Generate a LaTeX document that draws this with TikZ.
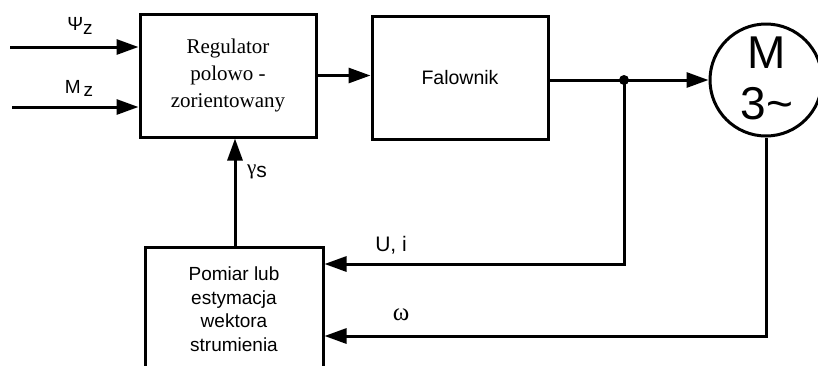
\documentclass[tikz,border=0pt]{standalone}
\usepackage{fontspec}
\setmainfont{Liberation Sans}
\newfontfamily\seriffont{Liberation Serif}
\usetikzlibrary{arrows.meta}
\begin{document}
\begin{tikzpicture}[x=1pt,y=-1pt,
  line width=3pt,
  blk/.style={draw,line width=3pt,minimum width=176pt,minimum height=123pt,inner sep=0pt,align=center},
  arr/.style={-{Triangle[length=22pt,width=15pt]}},
  lbl/.style={inner sep=0pt,anchor=center}]
\useasboundingbox (0,0) rectangle (818,365);
\clip (0,0) rectangle (818,365);
% blocks
\node[blk,font=\seriffont\fontsize{21}{27}\selectfont] (reg) at (228,75.5) {Regulator\\polowo -\\zorientowany};
\node[blk,font=\fontsize{19.5}{23}\selectfont] (fal) at (460,77.5) {Falownik};
\node[blk,minimum width=178pt,minimum height=124pt,font=\fontsize{19}{23.5}\selectfont] (pom) at (234,309) {Pomiar lub\\estymacja\\wektora\\strumienia};
\node[draw,circle,line width=3pt,minimum size=112pt,inner sep=0pt] (mot) at (766,80) {};
\node[lbl,font=\fontsize{46}{46}\selectfont] (mM) at (767,53) {M};
\node[lbl,font=\fontsize{46}{46}\selectfont] (m3) at (767,104) {3\textasciitilde};
% inputs
\coordinate (psi) at (10,47);
\coordinate (mz) at (12,107);
\draw[arr] (psi) -- (psi -| reg.west);
\draw[arr] (mz) -- (mz -| reg.west);
\node[lbl,font=\fontsize{19}{19}\selectfont] (psil) at (80,26) {Ψ\raisebox{-4pt}{z}};
\node[lbl,font=\fontsize{19}{19}\selectfont] (mzl) at (79,88) {M\,\raisebox{-3pt}{z}};
% forward path
\draw[arr] (reg.east) -- (reg.east -| fal.west);
\coordinate (j) at (624,80);
\draw (fal.east |- mot.west) -- (j);
\draw[arr] (j) -- (mot.west);
\fill (j) circle (5pt);
% feedback
\draw[arr] (j) |- ([yshift=45pt]pom.east);
\draw[arr] (mot.south) |- ([yshift=-27pt]pom.east);
\draw[arr] ([xshift=1pt]pom.north) -- ([xshift=1pt]pom.north |- reg.south);
% labels
\node[lbl,font=\fontsize{21}{21}\selectfont] (gl) at (257,172) {{\seriffont γ}\raisebox{-3pt}{s}};
\node[lbl,font=\fontsize{21}{21}\selectfont] (uil) at (391,245) {U, i};
\node[lbl,font=\seriffont\fontsize{25}{25}\selectfont] (wl) at (401,315) {ω};
\end{tikzpicture}
\end{document}
